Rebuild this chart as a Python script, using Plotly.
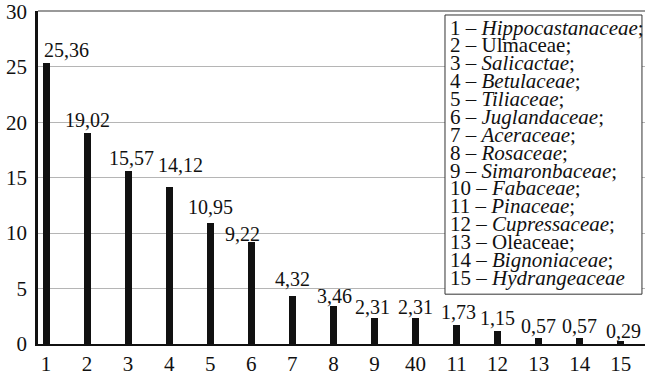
import plotly.graph_objects as go

positions = list(range(1, 16))
tick_labels = ["1", "2", "3", "4", "5", "6", "7", "8", "9", "40", "11", "12", "13", "14", "15"]
values = [25.36, 19.02, 15.57, 14.12, 10.95, 9.22, 4.32, 3.46, 2.31, 2.31, 1.73, 1.15, 0.57, 0.57, 0.29]
legend_numbers = [str(i) for i in range(1, 16)]
legend_names = ["Hippocastanaceae", "Ulmaceae", "Salicactae", "Betulaceae", "Tiliaceae",
                "Juglandaceae", "Aceraceae", "Rosaceae", "Simaronbaceae", "Fabaceae",
                "Pinaceae", "Cupressaceae", "Oleaceae", "Bignoniaceae", "Hydrangeaceae"]
legend_italic = [True, False, True, True, True, True, True, True, True, True,
                 True, True, False, True, True]

# label offsets in pixels (style)
label_dx = [20, 0, 3, 11, 0, -9, 0, 1, -2, 0, 2, 0, 0, 0, 3]
label_dy = [0, 0, 0, 9, 3, -5, 4, -3, -2, -2, 0, 0, -1, -1, -3]

FONT = '"Liberation Serif", "Times New Roman", "DejaVu Serif", serif'

fig = go.Figure()
fig.add_trace(go.Bar(x=positions, y=values, width=0.17, marker=dict(color="#111111", line=dict(width=0)),
                     showlegend=False, hoverinfo="skip"))

for x, v, dx, dy in zip(positions, values, label_dx, label_dy):
    fig.add_annotation(x=x, y=v, text=f"{v:.2f}".replace(".", ","), showarrow=False,
                       xanchor="center", yanchor="bottom", xshift=dx, yshift=dy,
                       font=dict(family=FONT, size=20, color="#111111"))

# legend box
fig.add_shape(type="rect", xref="paper", yref="paper", x0=0.6705, x1=0.995, y0=0.1496, y1=0.988,
              line=dict(color="#333333", width=1), fillcolor="white", layer="above")
line_h = 18.3 / 341
y_first = (351 - 27) / 341
for i, (n, name, it) in enumerate(zip(legend_numbers, legend_names, legend_italic)):
    sep = ";" if i < len(legend_names) - 1 else ""
    nm = f"<i>{name}</i>" if it else name
    fig.add_annotation(xref="paper", yref="paper", x=0.675, y=y_first - i * line_h,
                       text=f"{n} – {nm}{sep}", showarrow=False, xanchor="left", yanchor="middle",
                       font=dict(family=FONT, size=21, color="#111111"))

# top frame line
fig.add_shape(type="line", xref="paper", yref="paper", x0=0, x1=1, y0=1, y1=1,
              line=dict(color="#777777", width=1.5))

fig.update_layout(
    width=645, height=376,
    margin=dict(l=38, r=0, t=10, b=25),
    plot_bgcolor="white", paper_bgcolor="white",
    font=dict(family=FONT, size=21, color="#111111"),
    bargap=0,
)
fig.update_xaxes(range=[0.805, 15.59], tickvals=positions, ticktext=tick_labels,
                 showgrid=False, showline=True, linecolor="#111111", linewidth=2,
                 ticks="", ticklabelstandoff=0, zeroline=False,
                 tickfont=dict(family=FONT, size=21, color="#111111"))
fig.update_yaxes(range=[0, 30.02], tickvals=[0, 5, 10, 15, 20, 25, 30], showgrid=True,
                 gridcolor="#b5b5b5", gridwidth=1, showline=True, linecolor="#111111", linewidth=2.5,
                 ticks="", ticklabelstandoff=4, zeroline=False, ticklabeloverflow="allow",
                 tickfont=dict(family=FONT, size=21, color="#111111"))

fig.write_html("out.html", config={"displayModeBar": False},
               post_script="document.body.style.margin='0';document.body.style.padding='0';document.body.style.overflow='hidden';")
